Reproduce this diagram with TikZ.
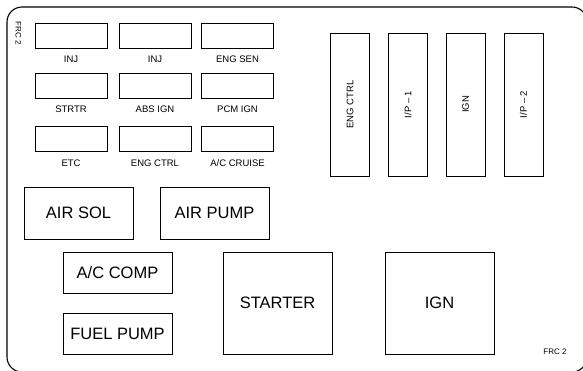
\documentclass[tikz,border=0pt]{standalone}
\usepackage{fontspec}
\setmainfont{Liberation Sans}
\begin{document}
\begin{tikzpicture}[x=1pt,y=-1pt,
  fuse/.style={draw, line width=0.9pt, minimum width=72pt, minimum height=25pt, inner sep=0pt},
  tag/.style={font=\fontsize{9.5}{10}\selectfont, inner sep=0pt},
  relay/.style={draw, line width=0.9pt, rotate=90, minimum width=143pt, minimum height=39pt, inner sep=0pt, font=\fontsize{9.5}{10}\selectfont},
  block/.style={draw, line width=0.9pt, minimum width=109pt, inner sep=0pt, font=\fontsize{16.5}{18}\selectfont},
  frc/.style={font=\fontsize{8}{9}\selectfont, inner sep=0pt}]
\useasboundingbox (0,0) rectangle (583,370);
\clip (0,0) rectangle (583,370);
\draw[line width=1.1pt, rounded corners=15pt] (7,7) rectangle (587,372);

\node[frc, rotate=-90] (frc1) at (18.5,33) {FRC 2};
\node[frc] (frc2) at (555,352) {FRC 2};

% mini fuses
\node[fuse] (f1) at (71,35.5) {};
\node[fuse] (f2) at (155,35.5) {};
\node[fuse] (f3) at (237.5,35.5) {};
\node[fuse] (f4) at (71,85.5) {};
\node[fuse] (f5) at (155,85.5) {};
\node[fuse] (f6) at (237.5,85.5) {};
\node[fuse] (f7) at (71,138.5) {};
\node[fuse] (f8) at (155,138.5) {};
\node[fuse] (f9) at (237.5,138.5) {};

\node[tag] (t1) at (71,59) {INJ};
\node[tag] (t2) at (155,59) {INJ};
\node[tag] (t3) at (237.5,59) {ENG SEN};
\node[tag] (t4) at (71,109) {STRTR};
\node[tag] (t5) at (155,109) {ABS IGN};
\node[tag] (t6) at (237.5,109) {PCM IGN};
\node[tag] (t7) at (71,163) {ETC};
\node[tag] (t8) at (155,163) {ENG CTRL};
\node[tag] (t9) at (237.5,163) {A/C CRUISE};

% relays
\node[relay] (r1) at (350,104.5) {ENG CTRL};
\node[relay] (r2) at (408,104.5) {I/P -- 1};
\node[relay] (r3) at (465.5,104.5) {IGN};
\node[relay] (r4) at (523.5,104.5) {I/P -- 2};

% maxi fuses and big relays
\node[block, minimum height=52pt] (b1) at (78.5,213) {AIR SOL};
\node[block, minimum height=52pt] (b2) at (214.5,213) {AIR PUMP};
\node[block, minimum height=41pt] (b3) at (117.5,272.5) {A/C COMP};
\node[block, minimum height=41pt] (b4) at (117.5,333.5) {FUEL PUMP};
\node[block, minimum height=102pt] (b5) at (277.5,303) {STARTER};
\node[block, minimum height=102pt] (b6) at (439.5,303) {IGN};
\end{tikzpicture}
\end{document}
